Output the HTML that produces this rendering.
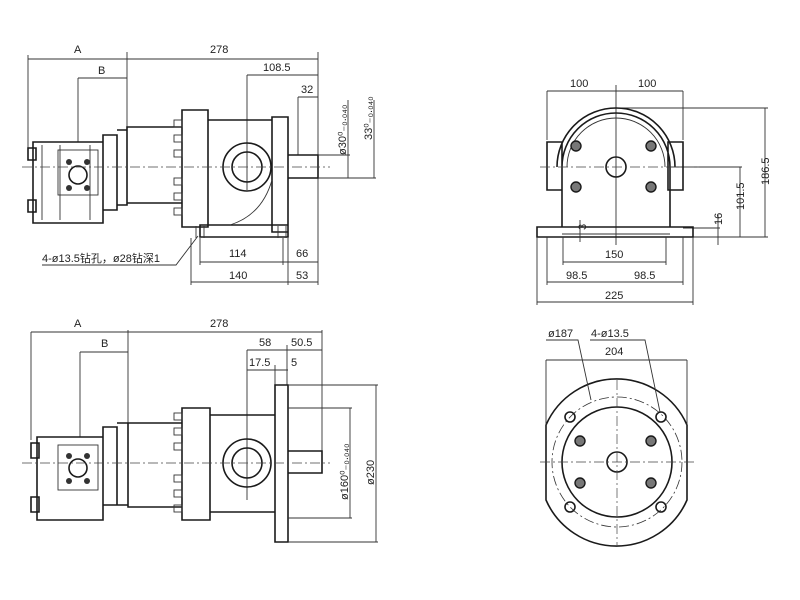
<!DOCTYPE html>
<html><head><meta charset="utf-8"><style>
html,body{margin:0;padding:0;background:#fff}
svg{display:block}
text{font-family:"Liberation Sans","Noto Sans CJK SC",sans-serif;font-size:11px;fill:#222}
.t{stroke:#1a1a1a;stroke-width:1.6;fill:none}
.d{stroke:#333;stroke-width:0.9;fill:none}
.c{stroke:#444;stroke-width:0.7;fill:none;stroke-dasharray:10 3 2 3}
.b{stroke:#1a1a1a;stroke-width:1.4;fill:#777}
</style></head><body>
<svg width="800" height="600" viewBox="0 0 800 600" xmlns="http://www.w3.org/2000/svg">
<!-- ===== TOP LEFT ===== -->
<g>
<path class="d" d="M28 59H318 M78 78H127 M247 75H318 M298 97H318 M28 55V155 M127 52V128 M318 52V180 M78 78V142 M247 75V190 M298 97V155"/>
<text x="74" y="53">A</text><text x="210" y="53">278</text><text x="98" y="74">B</text>
<text x="263" y="71">108.5</text><text x="301" y="93">32</text>
<path class="t" d="M33 142H103V223H33Z M28 148H36V160H28Z M28 200H36V212H28Z M103 135H117V210H103Z M117 130H127V205H117 M127 127H182V203H127Z M182 110H208V227H182Z M208 120H272V225H208 M272 117H288V232H272Z M200 225H288V237H200Z M288 155H318V178H288Z"/>
<path class="d" d="M196 226V238 M204 226V238 M278 226V238 M286 226V238 M42 145V220 M60 145V220 M90 145V220 M230 225Q262 215 272 180"/>
<rect x="58" y="150" width="40" height="45" class="d"/>
<circle cx="78" cy="175" r="9" class="t"/>
<g fill="#333"><circle cx="69" cy="162" r="3"/><circle cx="87" cy="162" r="3"/><circle cx="69" cy="188" r="3"/><circle cx="87" cy="188" r="3"/></g>
<g class="d"><rect x="174" y="120" width="8" height="7"/><rect x="174" y="135" width="8" height="7"/><rect x="174" y="150" width="8" height="7"/><rect x="174" y="178" width="8" height="7"/><rect x="174" y="193" width="8" height="7"/><rect x="174" y="208" width="8" height="7"/></g>
<circle cx="247" cy="167" r="24" class="t"/><circle cx="247" cy="167" r="15" class="t" stroke-width="2"/>
<path class="c" d="M22 167H330"/>
<path class="d" d="M318 155H350 M318 178H376 M348 100V178 M374 100V178"/>
<text transform="translate(346,155) rotate(-90)" font-size="10">ø30⁰₋₀.₀₄₀</text>
<text transform="translate(372,140) rotate(-90)" font-size="10">33⁰₋₀.₀₄₀</text>
<path class="d" d="M200 238V265 M283 238V265 M200 262H283 M283 262H318 M191 238V285 M288 238V285 M318 180V285 M191 282H318"/>
<text x="229" y="257">114</text><text x="296" y="257">66</text><text x="229" y="279">140</text><text x="296" y="279">53</text>
<text x="42" y="262" font-size="10.5">4-ø13.5钻孔，ø28钻深1</text>
<path class="d" d="M42 265H176L198 236"/>
</g>
<!-- ===== TOP RIGHT ===== -->
<g>
<path class="d" d="M547 91H683 M547 91V140 M616 85V245 M683 91V140 M616 108H768 M765 108V237 M740 167V237 M667 167H742 M718 215V245 M683 237H768 M683 228H720"/>
<text x="570" y="87">100</text><text x="638" y="87">100</text>
<text transform="translate(769,185) rotate(-90)">186.5</text>
<text transform="translate(744,210) rotate(-90)">101.5</text>
<text transform="translate(722,225) rotate(-90)">16</text>
<path class="t" d="M562 227V167A54 54 0 0 1 670 167V227 M557 167A59 59 0 0 1 675 167 M547 142H562V190H547Z M668 142H683V190H668Z M537 227H693V237H537Z"/>
<path class="d" d="M567 167A49 49 0 0 1 665 167 M562 234H670"/>
<circle cx="616" cy="167" r="10" class="t"/>
<path class="c" d="M540 167H700"/>
<g class="b"><circle cx="576" cy="146" r="5"/><circle cx="651" cy="146" r="5"/><circle cx="576" cy="187" r="5"/><circle cx="651" cy="187" r="5"/></g>
<text x="578" y="230" font-size="9" transform="rotate(-90 582 226)">3</text>
<path class="d" d="M580 220V242 M563 237V265 M666 237V265 M563 262H666 M547 237V285 M683 237V285 M547 282H683 M537 237V305 M693 237V305 M537 302H693"/>
<text x="605" y="258">150</text><text x="566" y="279">98.5</text><text x="634" y="279">98.5</text><text x="605" y="299">225</text>
</g>
<!-- ===== BOTTOM LEFT ===== -->
<g>
<path class="d" d="M31 332H322 M80 352H128 M247 350H322 M247 370H288 M31 332V440 M128 330V423 M80 352V437 M247 350V500 M287 345V385 M275 365V385 M322 330V455"/>
<text x="74" y="327">A</text><text x="210" y="327">278</text><text x="101" y="347">B</text>
<text x="259" y="346">58</text><text x="291" y="346">50.5</text><text x="249" y="366">17.5</text><text x="291" y="366">5</text>
<path class="t" d="M37 437H103V520H37Z M31 443H39V458H31Z M31 497H39V512H31Z M103 427H117V505H103Z M117 423H128V505H117 M128 423H182V507H128Z M182 408H210V520H182Z M210 415H275V512H210 M275 385H288V542H275Z M288 451H322V473H288Z"/>
<rect x="58" y="445" width="40" height="45" class="d"/>
<circle cx="78" cy="468" r="9" class="t"/>
<g fill="#333"><circle cx="69" cy="456" r="3"/><circle cx="87" cy="456" r="3"/><circle cx="69" cy="481" r="3"/><circle cx="87" cy="481" r="3"/></g>
<g class="d"><rect x="174" y="413" width="8" height="7"/><rect x="174" y="428" width="8" height="7"/><rect x="174" y="443" width="8" height="7"/><rect x="174" y="475" width="8" height="7"/><rect x="174" y="490" width="8" height="7"/><rect x="174" y="505" width="8" height="7"/></g>
<circle cx="247" cy="463" r="24" class="t"/><circle cx="247" cy="463" r="15" class="t" stroke-width="2"/>
<path class="c" d="M22 463H330"/>
<path class="d" d="M288 408H352 M288 518H352 M288 385H378 M288 542H378 M350 408V518 M376 385V542"/>
<text transform="translate(348,500) rotate(-90)" font-size="10">ø160⁰₋₀.₀₄₀</text>
<text transform="translate(374,485) rotate(-90)">ø230</text>
</g>
<!-- ===== BOTTOM RIGHT ===== -->
<g>
<path class="t" d="M546 425A77 77 0 0 1 687 425V500A77 77 0 0 1 546 500Z"/>
<circle cx="617" cy="462" r="65" fill="none" stroke="#333" stroke-width="0.8" stroke-dasharray="10 3 2 3"/>
<circle cx="617" cy="462" r="55" class="t"/>
<circle cx="617" cy="462" r="10" class="t"/>
<path class="c" d="M540 462H695 M617 380V545"/>
<path class="d" d="M546 360H687 M546 360V425 M687 360V425"/>
<text x="605" y="355">204</text>
<text x="548" y="337" font-size="10">ø187</text><text x="591" y="337" font-size="10">4-ø13.5</text>
<path class="d" d="M546 340H578L591 400 M590 340H645L660 412"/>
<g class="t"><circle cx="570" cy="417" r="5"/><circle cx="661" cy="417" r="5"/><circle cx="570" cy="507" r="5"/><circle cx="661" cy="507" r="5"/></g>
<g class="b"><circle cx="580" cy="441" r="5"/><circle cx="651" cy="441" r="5"/><circle cx="580" cy="483" r="5"/><circle cx="651" cy="483" r="5"/></g>
</g>
</svg>
</body></html>
